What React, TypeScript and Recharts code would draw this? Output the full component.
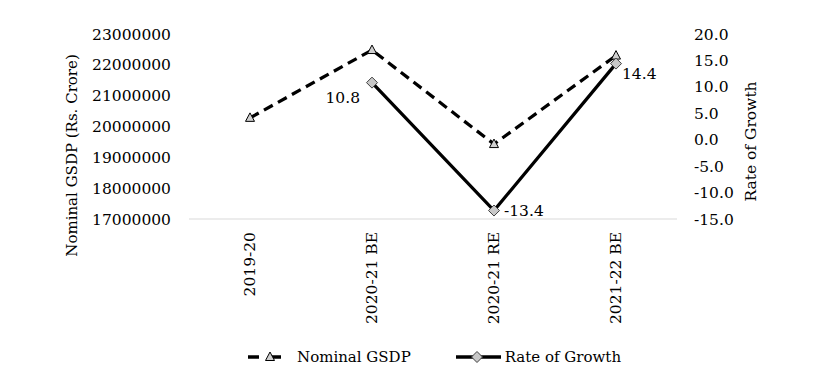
import { LineChart, Line, XAxis, YAxis, Legend, LabelList } from "recharts";

const categories = ["2019-20", "2020-21 BE", "2020-21 RE", "2021-22 BE"];
const nominalGsdp = [20280000, 22480000, 19430000, 22300000];
const growthRate: (number | null)[] = [null, 10.8, -13.4, 14.4];
const leftTicks = [17000000, 18000000, 19000000, 20000000, 21000000, 22000000, 23000000];
const rightTicks = [-15, -10, -5, 0, 5, 10, 15, 20];

const FONT = "'DejaVu Serif', serif";

const data = categories.map((name, i) => ({
  name,
  gsdp: nominalGsdp[i],
  growth: growthRate[i],
}));

// rotated category label, reads bottom to top
const CategoryTick = (props: any) => {
  const { x, y, payload } = props;
  return (
    <text
      transform={`translate(${x},${y}) rotate(-90)`}
      textAnchor="end"
      dy="0.35em"
      fontSize={15.5}
      fontFamily={FONT}
      fill="#000"
    >
      {payload.value}
    </text>
  );
};

const TriangleDot = (props: any) => {
  const { cx, cy, index } = props;
  if (cx == null || cy == null) return <g key={`t-${index}`} />;
  return (
    <polygon
      key={`t-${index}`}
      points={`${cx},${cy - 5} ${cx - 4.5},${cy + 3.5} ${cx + 4.5},${cy + 3.5}`}
      fill="#d0d0d0"
      stroke="#000"
      strokeWidth={1}
    />
  );
};

const DiamondDot = (props: any) => {
  const { cx, cy, index } = props;
  if (cx == null || cy == null) return <g key={`d-${index}`} />;
  return (
    <polygon
      key={`d-${index}`}
      points={`${cx},${cy - 5.5} ${cx + 5.5},${cy} ${cx},${cy + 5.5} ${cx - 5.5},${cy}`}
      fill="#c8c8c8"
      stroke="#404040"
      strokeWidth={1}
    />
  );
};

// label placement per point, like the original
const GrowthLabel = (props: any) => {
  const { x, y, value, index } = props;
  if (value == null) return null;
  let tx = x + 10;
  let ty = y + 5;
  let anchor = "start";
  if (index === 1) {
    tx = x - 12;
    ty = y + 20;
    anchor = "end";
  } else if (index === 3) {
    tx = x + 6;
    ty = y + 15;
  }
  return (
    <text x={tx} y={ty} textAnchor={anchor} fontSize={15.5} fontFamily={FONT} fill="#000">
      {Number(value).toFixed(1)}
    </text>
  );
};

const LeftTitle = (props: any) => {
  const vb = props.viewBox;
  const cx = 77;
  const cy = vb.y + vb.height / 2 + 29;
  return (
    <text
      transform={`translate(${cx},${cy}) rotate(-90)`}
      textAnchor="middle"
      fontSize={15}
      fontFamily={FONT}
      fill="#000"
    >
      Nominal GSDP (Rs. Crore)
    </text>
  );
};

const RightTitle = (props: any) => {
  const vb = props.viewBox;
  const cx = 756;
  const cy = vb.y + vb.height / 2 + 15;
  return (
    <text
      transform={`translate(${cx},${cy}) rotate(-90)`}
      textAnchor="middle"
      fontSize={15.5}
      fontFamily={FONT}
      fill="#000"
    >
      Rate of Growth
    </text>
  );
};

const ChartLegend = () => (
  <div
    style={{
      height: 20,
      display: "flex",
      alignItems: "center",
      paddingLeft: 248,
      fontFamily: FONT,
      fontSize: 15,
      color: "#000",
      whiteSpace: "nowrap",
    }}
  >
    <svg width={43} height={20}>
      <line x1={0} y1={10} x2={43} y2={10} stroke="#000" strokeWidth={3.5} strokeDasharray="11 11" />
      <polygon points="22,5 17.5,13.5 26.5,13.5" fill="#d0d0d0" stroke="#000" strokeWidth={1} />
    </svg>
    <span style={{ marginLeft: 6 }}>Nominal GSDP</span>
    <svg width={45} height={20} style={{ marginLeft: 45 }}>
      <line x1={0} y1={10} x2={45} y2={10} stroke="#000" strokeWidth={3.5} />
      <polygon points="21,4.5 26.5,10 21,15.5 15.5,10" fill="#c8c8c8" stroke="#404040" strokeWidth={1} />
    </svg>
    <span style={{ marginLeft: 4 }}>Rate of Growth</span>
  </div>
);

export default function App() {
  return (
    <div style={{ position: "absolute", left: 0, top: 0, background: "#fff" }}>
      <LineChart
        width={815}
        height={377}
        data={data}
        margin={{ top: 34, right: 0, bottom: 10, left: 0 }}
        style={{ fontFamily: FONT }}
      >
        <XAxis
          dataKey="name"
          padding={{ left: 61, right: 61 }}
          height={128}
          tickLine={false}
          tickSize={0}
          tickMargin={13}
          axisLine={{ stroke: "#d9d9d9", strokeWidth: 1 }}
          tick={<CategoryTick />}
          interval={0}
        />
        <YAxis
          yAxisId="left"
          width={189}
          domain={[17000000, 23000000]}
          ticks={leftTicks}
          axisLine={false}
          tickLine={false}
          tickSize={0}
          tickMargin={18}
          tick={{ fontSize: 15.5, fontFamily: FONT, fill: "#000" }}
          tickFormatter={(v: number) => String(v)}
          label={<LeftTitle />}
        />
        <YAxis
          yAxisId="right"
          orientation="right"
          width={138}
          domain={[-15, 20]}
          ticks={rightTicks}
          axisLine={false}
          tickLine={false}
          tickSize={0}
          tickMargin={17}
          tick={{ fontSize: 15.5, fontFamily: FONT, fill: "#000" }}
          tickFormatter={(v: number) => v.toFixed(1)}
          label={<RightTitle />}
        />
        <Legend verticalAlign="bottom" content={<ChartLegend />} />
        <Line
          yAxisId="left"
          dataKey="gsdp"
          name="Nominal GSDP"
          stroke="#000"
          strokeWidth={3.25}
          strokeDasharray="10 6"
          dot={<TriangleDot />}
          activeDot={false}
          isAnimationActive={false}
        />
        <Line
          yAxisId="right"
          dataKey="growth"
          name="Rate of Growth"
          stroke="#000"
          strokeWidth={3.25}
          dot={<DiamondDot />}
          activeDot={false}
          isAnimationActive={false}
        >
          <LabelList dataKey="growth" content={<GrowthLabel />} />
        </Line>
      </LineChart>
    </div>
  );
}
